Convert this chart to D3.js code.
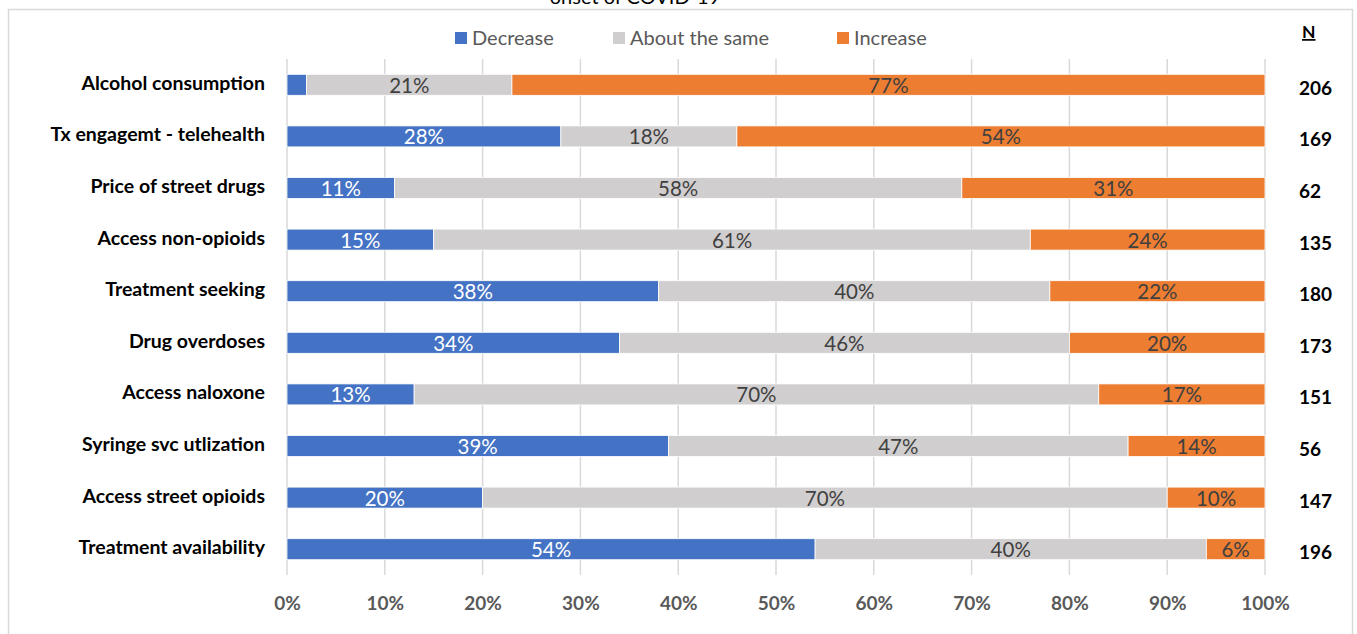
<!DOCTYPE html>
<html>
<head>
<meta charset="utf-8">
<script src="https://cdn.jsdelivr.net/npm/d3@7"></script>
<style>
  html, body { margin: 0; padding: 0; background: #fff; }
  svg { display: block; font-family: Lato, "Open Sans", "Liberation Sans", sans-serif; }
</style>
</head>
<body>
<svg id="chart" width="1357" height="634"></svg>
<script>
const categories = ["Alcohol consumption", "Tx engagemt - telehealth", "Price of street drugs",
  "Access non-opioids", "Treatment seeking", "Drug overdoses", "Access naloxone",
  "Syringe svc utlization", "Access street opioids", "Treatment availability"];
const decrease = [2, 28, 11, 15, 38, 34, 13, 39, 20, 54];
const aboutSame = [21, 18, 58, 61, 40, 46, 70, 47, 70, 40];
const increase = [77, 54, 31, 24, 22, 20, 17, 14, 10, 6];
const nValues = [206, 169, 62, 135, 180, 173, 151, 56, 147, 196];
const seriesNames = ["Decrease", "About the same", "Increase"];
const seriesColors = ["#4472C4", "#D0CECE", "#ED7D31"];
const labelColors = ["#FFFFFF", "#404040", "#404040"];
const xTicks = [0, 10, 20, 30, 40, 50, 60, 70, 80, 90, 100];
const titleText = "onset of COVID-19";

const svg = d3.select("#chart");
const plot = {left: 287, right: 1265, top: 59, bottom: 575};

// outer frame
svg.append("rect").attr("x", 8.5).attr("y", 9.5).attr("width", 1344).attr("height", 640)
  .attr("fill", "#fff").attr("stroke", "#D9D9D9").attr("stroke-width", 1.5);

// title (cut off at top)
svg.append("text").attr("x", 635).attr("y", 4).attr("text-anchor", "middle")
  .attr("font-size", 20).attr("fill", "#000").text(titleText);

const x = d3.scaleLinear().domain([0, 100]).range([plot.left, plot.right]);
const y = d3.scaleBand().domain(categories).range([plot.top, plot.bottom]).paddingInner(0.59).paddingOuter(0.295);

// gridlines
svg.append("g").selectAll("line").data(xTicks).join("line")
  .attr("x1", d => x(d)).attr("x2", d => x(d))
  .attr("y1", plot.top).attr("y2", plot.bottom)
  .attr("stroke", "#D9D9D9").attr("stroke-width", 1.5);

// x axis labels
const xAxis = d3.axisBottom(x).tickValues(xTicks).tickFormat(d => d + "%").tickSize(0).tickPadding(0);
const gx = svg.append("g").attr("transform", `translate(0,${plot.bottom + 35})`).call(xAxis);
gx.select(".domain").remove();
gx.selectAll("text").attr("font-size", 19).attr("font-weight", "bold").attr("fill", "#595959")
  .attr("font-family", "Lato, 'Open Sans', sans-serif").attr("dy", "0");

// stacked data
const rows = categories.map((c, i) => ({cat: c, Decrease: decrease[i], "About the same": aboutSame[i], Increase: increase[i]}));
const stack = d3.stack().keys(seriesNames)(rows);

const bh = 21;
stack.forEach((layer, li) => {
  const g = svg.append("g");
  g.selectAll("rect").data(layer).join("rect")
    .attr("x", d => x(d[0])).attr("width", d => x(d[1]) - x(d[0]))
    .attr("y", d => y(d.data.cat) + y.bandwidth() / 2 - bh / 2).attr("height", bh)
    .attr("fill", seriesColors[li]).attr("stroke", "#fff").attr("stroke-width", 0.8);
  g.selectAll("text").data(layer.filter(d => d[1] - d[0] >= 5)).join("text")
    .attr("x", d => (x(d[0]) + x(d[1])) / 2)
    .attr("y", d => y(d.data.cat) + y.bandwidth() / 2 + 8)
    .attr("text-anchor", "middle").attr("font-size", 20.5).attr("fill", labelColors[li])
    .text(d => Math.round(d[1] - d[0]) + "%");
});

// category labels
svg.append("g").selectAll("text").data(categories).join("text")
  .attr("x", 265).attr("y", d => y(d) + y.bandwidth() / 2 + 5)
  .attr("text-anchor", "end").attr("font-size", 19.5).attr("font-weight", "bold").attr("fill", "#000")
  .text(d => d);

// N values
svg.append("g").selectAll("text").data(nValues).join("text")
  .attr("x", 1299).attr("y", (d, i) => y(categories[i]) + y.bandwidth() / 2 + 10)
  .attr("text-anchor", "start").attr("font-size", 19).attr("font-weight", "bold").attr("fill", "#000")
  .text(d => d);

// N header
svg.append("text").attr("x", 1302).attr("y", 38)
  .attr("font-size", 17.5).attr("font-weight", "bold").attr("fill", "#000")
  .attr("text-decoration", "underline").text("N");

// legend
const legendX = [455, 613, 837];
seriesNames.forEach((s, i) => {
  svg.append("rect").attr("x", legendX[i]).attr("y", 32).attr("width", 12).attr("height", 12).attr("fill", seriesColors[i]);
  svg.append("text").attr("x", legendX[i] + 17).attr("y", 45).attr("font-size", 20).attr("fill", "#595959").text(s);
});
</script>
</body>
</html>
